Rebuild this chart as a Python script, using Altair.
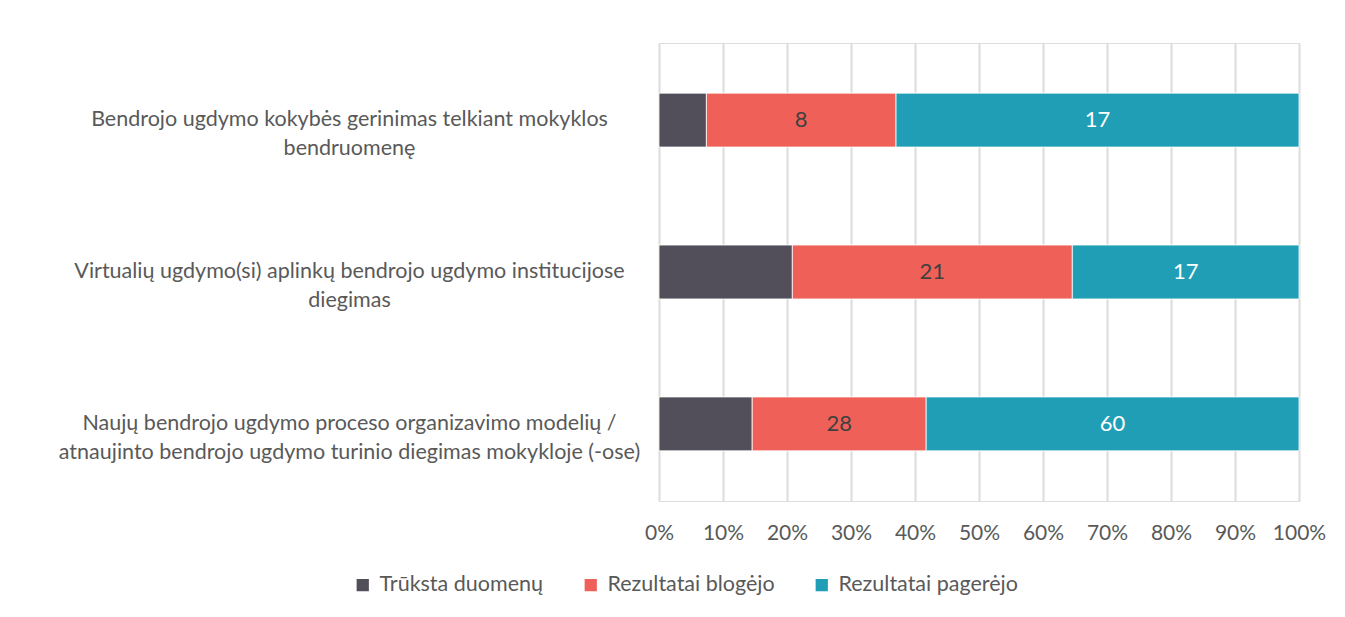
import altair as alt
import pandas as pd

categories = [
    "Bendrojo ugdymo kokybės gerinimas telkiant mokyklos|bendruomenę",
    "Virtualių ugdymo(si) aplinkų bendrojo ugdymo institucijose|diegimas",
    "Naujų bendrojo ugdymo proceso organizavimo modelių /|atnaujinto bendrojo ugdymo turinio diegimas mokykloje (-ose)",
]
series = ["Trūksta duomenų", "Rezultatai blogėjo", "Rezultatai pagerėjo"]
missing = [2, 10, 15]
worse = [8, 21, 28]
better = [17, 17, 60]
colors = ["#524F5A", "#EF6158", "#209EB5"]
x_ticks = [0, 0.1, 0.2, 0.3, 0.4, 0.5, 0.6, 0.7, 0.8, 0.9, 1.0]

rows = []
for i, cat in enumerate(categories):
    for j, (s, vals) in enumerate(zip(series, [missing, worse, better])):
        rows.append({"category": cat, "series": s, "value": vals[i], "order": j})
df = pd.DataFrame(rows)

FONT = "Lato"
TXT = "#595959"

base = (
    alt.Chart(df)
    .transform_joinaggregate(total="sum(value)", groupby=["category"])
    .transform_calculate(pct="datum.value / datum.total")
    .transform_stack(
        stack="pct",
        groupby=["category"],
        as_=["x0", "x1"],
        sort=[alt.SortField("order", order="ascending")],
    )
    .transform_calculate(mid="(datum.x0 + datum.x1) / 2")
)

y_enc = alt.Y(
    "category:N",
    sort=categories,
    scale=alt.Scale(paddingInner=0.645, paddingOuter=0.33),
    axis=alt.Axis(
        title=None,
        domain=False,
        ticks=False,
        labelExpr="split(datum.label, '|')",
        labelAlign="center",
        labelPadding=310,
        labelFontSize=21.5,
        labelLineHeight=29,
        labelColor=TXT,
        labelFont=FONT,
        labelLimit=800,
    ),
)

bars = base.mark_bar(stroke="white", strokeWidth=0.8).encode(
    x=alt.X(
        "x0:Q",
        scale=alt.Scale(domain=[0, 1], nice=False),
        axis=alt.Axis(
            title=None,
            format=".0%",
            values=x_ticks,
            domain=False,
            ticks=False,
            grid=True,
            gridColor="#DCDCDC",
            gridWidth=2,
            labelFontSize=21,
            labelColor=TXT,
            labelFont=FONT,
            labelPadding=21,
            labelOverlap=False,
            labelFlush=False,
        ),
    ),
    x2="x1:Q",
    y=y_enc,
    color=alt.Color(
        "series:N",
        scale=alt.Scale(domain=series, range=colors),
        sort=series,
        legend=alt.Legend(
            title=None,
            orient="none",
            direction="horizontal",
            legendX=-307,
            legendY=531,
            symbolType="square",
            symbolSize=150,
            symbolStrokeWidth=0,
            labelFontSize=21.5,
            labelFont=FONT,
            labelColor=TXT,
            columnPadding=36,
            labelOffset=6,
            labelLimit=400,
        ),
    ),
)

labels = (
    base.transform_filter(alt.datum.series != series[0])
    .mark_text(fontSize=22, font=FONT)
    .encode(
        x="mid:Q",
        y=alt.Y("category:N", sort=categories),
        text="value:Q",
        color=alt.condition(
            alt.datum.series == series[2], alt.value("white"), alt.value("#404040")
        ),
    )
)

chart = (
    alt.layer(bars, labels)
    .properties(
        width=640,
        height=458,
        padding={"left": 50, "top": 35, "right": 5, "bottom": 5},
    )
    .configure_view(stroke=None)
    .configure(background="white")
)

chart.save("out.html", embed_options={"renderer": "svg", "actions": False})
